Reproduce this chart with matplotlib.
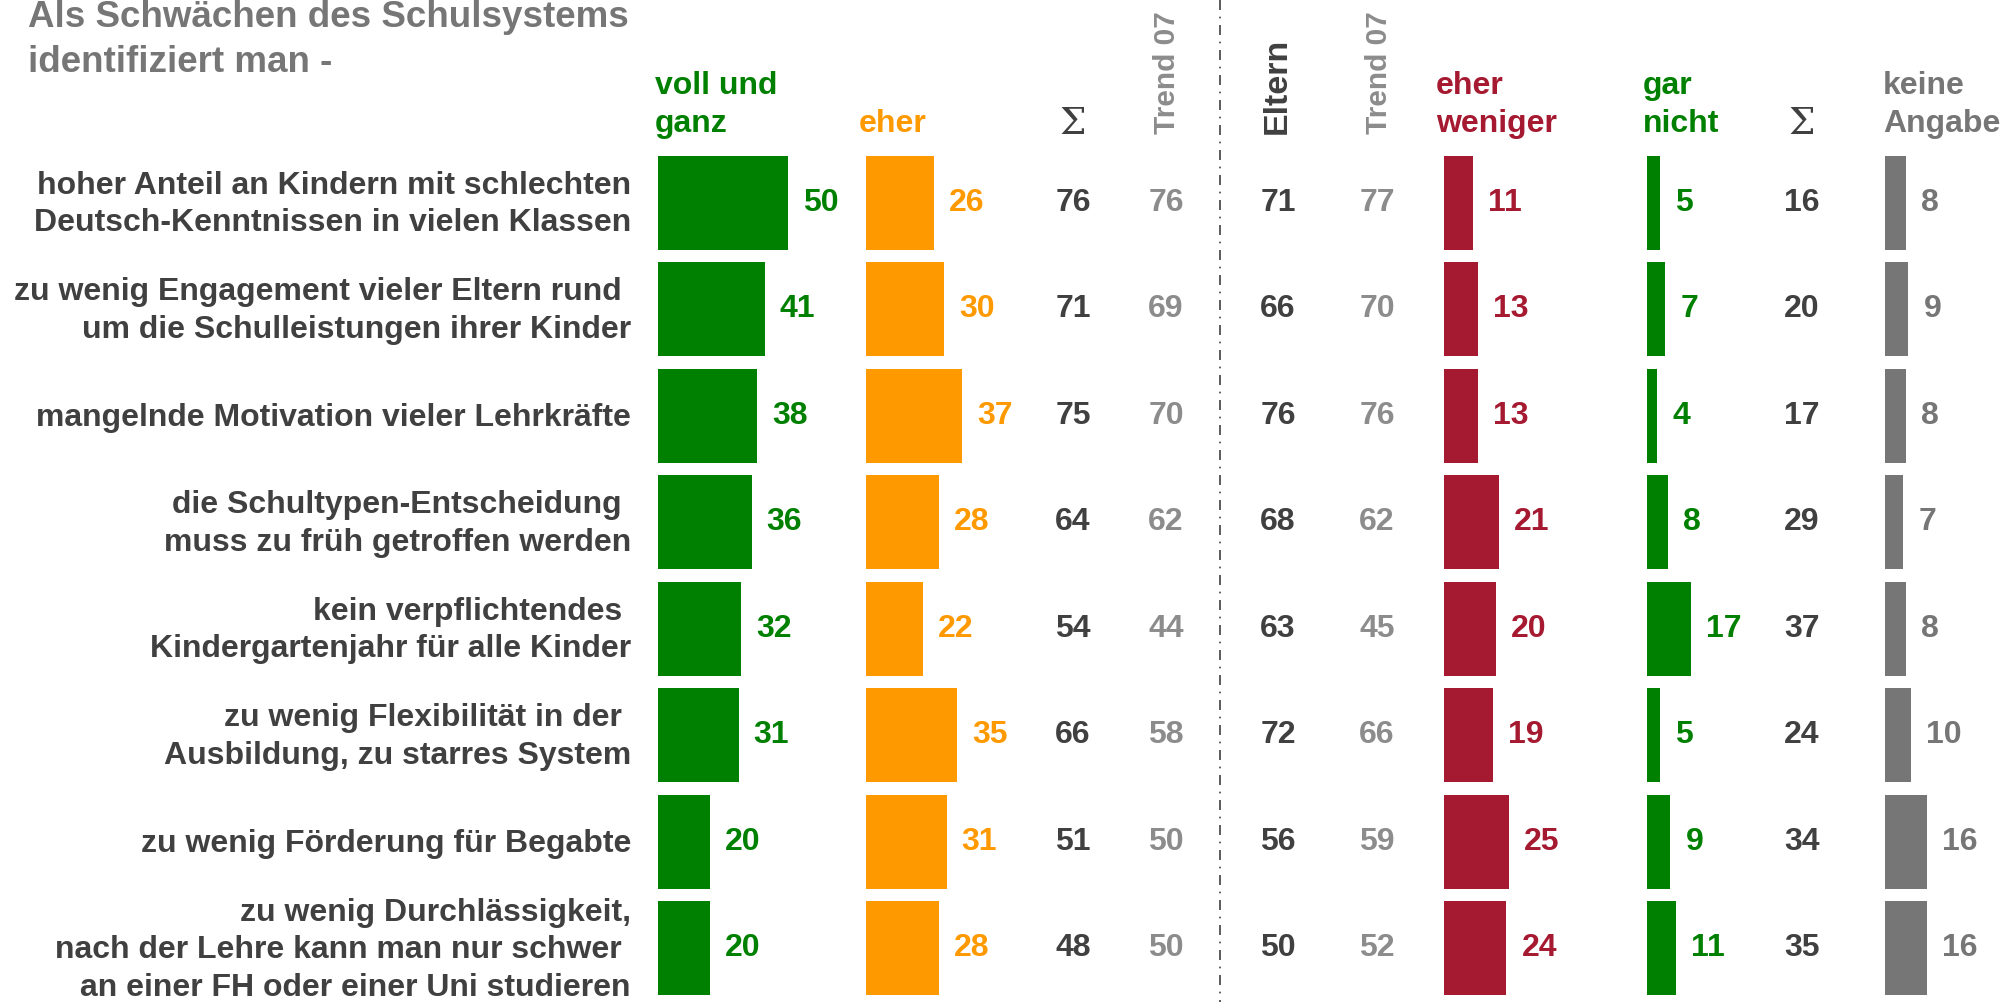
import numpy as np
import matplotlib
matplotlib.use('Agg')
import matplotlib.pyplot as plt
from matplotlib import font_manager

names = {f.name for f in font_manager.fontManager.ttflist}
narrow = 'Liberation Sans Narrow' if 'Liberation Sans Narrow' in names else 'Liberation Sans'

categories = [
    'hoher Anteil an Kindern mit schlechten\nDeutsch-Kenntnissen in vielen Klassen',
    'zu wenig Engagement vieler Eltern rund \num die Schulleistungen ihrer Kinder',
    'mangelnde Motivation vieler Lehrkräfte',
    'die Schultypen-Entscheidung \nmuss zu früh getroffen werden',
    'kein verpflichtendes \nKindergartenjahr für alle Kinder',
    'zu wenig Flexibilität in der \nAusbildung, zu starres System',
    'zu wenig Förderung für Begabte',
    'zu wenig Durchlässigkeit,\nnach der Lehre kann man nur schwer \nan einer FH oder einer Uni studieren',
]
voll = [50, 41, 38, 36, 32, 31, 20, 20]
eher = [26, 30, 37, 28, 22, 35, 31, 28]
sum_pos = [76, 71, 75, 64, 54, 66, 51, 48]
trend_pos = [76, 69, 70, 62, 44, 58, 50, 50]
eltern = [71, 66, 76, 68, 63, 72, 56, 50]
trend_eltern = [77, 70, 76, 62, 45, 66, 59, 52]
weniger = [11, 13, 13, 21, 20, 19, 25, 24]
garnicht = [5, 7, 4, 8, 17, 5, 9, 11]
sum_neg = [16, 20, 17, 29, 37, 24, 34, 35]
keine = [8, 9, 8, 7, 8, 10, 16, 16]

GREEN = '#008000'
ORANGE = '#FF9900'
RED = '#A51931'
GREY = '#767676'
DARK = '#404040'
LIGHT = '#8C8C8C'

fig = plt.figure(figsize=(20.11, 10.02), dpi=100)
ax = fig.add_axes([0, 0, 1, 1])
ax.set_xlim(0, 2011)
ax.set_ylim(1002, 0)
ax.axis('off')

y = 202.6 + 106.5 * np.arange(len(categories))
scale = 2.6
bh = 94
fs = 23

def bars(vals, x0, color, tcolor):
    vals = np.array(vals)
    ax.barh(y, vals * scale, left=x0, height=bh, color=color)
    for yy, v in zip(y, vals):
        ax.text(x0 + v * scale + 15, yy, str(v), color=tcolor, fontsize=fs,
                fontweight='bold', family=narrow, ha='left', va='center')

bars(voll, 658, GREEN, GREEN)
bars(eher, 866, ORANGE, ORANGE)
bars(weniger, 1444, RED, RED)
bars(garnicht, 1647, GREEN, GREEN)
bars(keine, 1885, GREY, GREY)

def col(vals, x, color):
    for yy, v in zip(y, vals):
        ax.text(x, yy, str(v), color=color, fontsize=fs, fontweight='bold',
                family=narrow, ha='center', va='center')

col(sum_pos, 1073, DARK)
col(trend_pos, 1166, LIGHT)
col(eltern, 1278, DARK)
col(trend_eltern, 1377, LIGHT)
col(sum_neg, 1802, DARK)

for yy, lab in zip(y, categories):
    ax.text(631, yy + 2, lab, color=DARK, fontsize=fs, fontweight='bold', family=narrow,
            ha='right', va='center', multialignment='right', linespacing=1.33)

# title and column headers
ax.text(28, 40, 'Als Schwächen des Schulsystems\nidentifiziert man -', color=GREY,
        fontsize=26.5, fontweight='bold', family=narrow, ha='left', va='center', linespacing=1.38)
hdr = dict(fontsize=fs, fontweight='bold', family=narrow, va='center', linespacing=1.33)
ax.text(655, 105, 'voll und\nganz', color=GREEN, ha='left', **hdr)
ax.text(859, 124, 'eher', color=ORANGE, ha='left', **hdr)
ax.text(1436, 105, 'eher\nweniger', color=RED, ha='left', **hdr)
ax.text(1643, 105, 'gar\nnicht', color=GREEN, ha='left', **hdr)
ax.text(1883, 105, 'keine\nAngabe', color=GREY, ha='left', **hdr)
ax.text(1073, 124, 'Σ', color=DARK, fontsize=27, family='DejaVu Serif', ha='center', va='center')
ax.text(1802, 124, 'Σ', color=DARK, fontsize=27, family='DejaVu Serif', ha='center', va='center')
ax.text(1167, 134, 'Trend 07', color=LIGHT, fontsize=21.5, fontweight='bold', family=narrow,
        rotation=90, ha='center', va='bottom')
ax.text(1379, 134, 'Trend 07', color=LIGHT, fontsize=21.5, fontweight='bold', family=narrow,
        rotation=90, ha='center', va='bottom')
ax.text(1277, 134, 'Eltern', color=DARK, fontsize=24.5, fontweight='bold', family=narrow,
        rotation=90, ha='center', va='bottom')

ax.plot([1220, 1220], [0, 1002], color=DARK, lw=1.2, linestyle=(0, (6, 4, 1, 4)))

fig.savefig('out.png', dpi=100)
